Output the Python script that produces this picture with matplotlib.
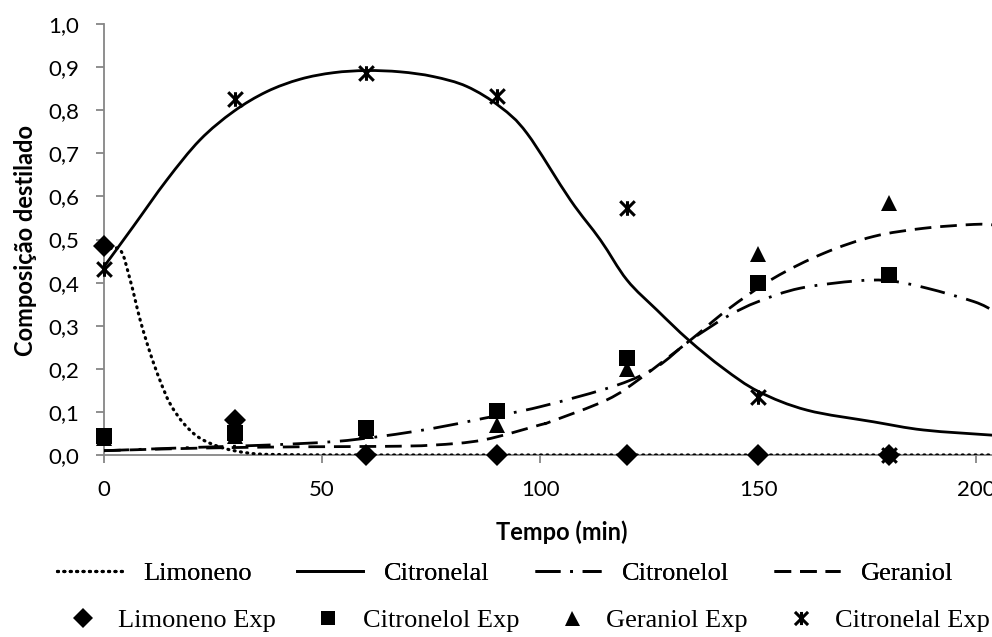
import matplotlib
matplotlib.use("Agg")
import matplotlib.pyplot as plt
from matplotlib.path import Path
from matplotlib.patches import PathPatch
from matplotlib.lines import Line2D
from matplotlib.ticker import FixedLocator

# ----------------------------------------------------------------------
# Experimental points (sampling times, min)
# ----------------------------------------------------------------------
t_exp = [0, 30, 60, 90, 120, 150, 180]
limoneno_exp = [0.485, 0.082, 0.0, 0.0, 0.0, 0.0, 0.0]
citronelol_exp = [0.044, 0.052, 0.062, 0.103, 0.226, 0.400, 0.417]
geraniol_exp = [0.040, 0.045, 0.056, 0.070, 0.200, 0.467, 0.585]
citronelal_exp = [0.431, 0.825, 0.887, 0.833, 0.572, 0.135, 0.0]

# ----------------------------------------------------------------------
# Simulated profiles
# ----------------------------------------------------------------------
t_lim = [0, 3.7, 6.0, 8.3, 10.6, 12.8, 15.1, 18.2, 22.0, 27.4, 33.5, 40, 60, 100, 150, 204]
y_lim = [0.475, 0.476, 0.406, 0.313, 0.236, 0.174, 0.120, 0.074, 0.039, 0.016, 0.004, 0.001, 0.0, 0.0, 0.0, 0.0]

t_cal = [0, 6.7, 14.4, 22.0, 29.7, 37.3, 45.0, 52.6, 60.2, 67.9, 75.5, 83.2, 90.8, 97.0,
         106.9, 113.8, 119.9, 126.8, 134.0, 142.0, 150.1, 161.2, 176.4, 187.9, 203.7]
y_cal = [0.437, 0.530, 0.638, 0.731, 0.797, 0.843, 0.872, 0.887, 0.892, 0.889, 0.878, 0.855, 0.808, 0.746,
         0.592, 0.499, 0.406, 0.336, 0.267, 0.201, 0.147, 0.104, 0.077, 0.058, 0.046]

t_col = [0, 22.0, 37.3, 52.6, 64.0, 75.5, 87.0, 100.0, 117.6, 126.8, 134.0, 142.8, 150.0,
         159.6, 172.6, 180.3, 188.7, 199.4, 203.7]
y_col = [0.010, 0.018, 0.023, 0.031, 0.044, 0.062, 0.085, 0.112, 0.162, 0.205, 0.263, 0.321, 0.356,
         0.387, 0.404, 0.404, 0.387, 0.356, 0.336]

t_ger = [0, 22.0, 45.0, 64.0, 75.5, 87.0, 100.0, 102.3, 115.3, 123.0, 134.0, 142.8, 153.5,
         165.0, 176.4, 187.9, 199.4, 203.7]
y_ger = [0.010, 0.016, 0.019, 0.020, 0.023, 0.035, 0.070, 0.077, 0.128, 0.178, 0.263, 0.336, 0.410,
         0.468, 0.507, 0.526, 0.535, 0.534]

x_ticks = [0, 50, 100, 150, 200]
y_ticks = [0.0, 0.1, 0.2, 0.3, 0.4, 0.5, 0.6, 0.7, 0.8, 0.9, 1.0]
y_labels = ["0,0", "0,1", "0,2", "0,3", "0,4", "0,5", "0,6", "0,7", "0,8", "0,9", "1,0"]

AXIS_GREY = "#868686"
TICK_FONT = "Lato"
LEGEND_FONT = "Liberation Serif"

# line styles shared by the curves and their legend entries
STYLES = {
    "Limoneno": dict(lw=2.3, linestyle=(0, (0.3, 1.7)), capstyle="round"),
    "Citronelal": dict(lw=2.0, linestyle="solid", capstyle="butt"),
    "Citronelol": dict(lw=2.0, linestyle=(0, (9, 3.5, 1, 3.5)), capstyle="butt"),
    "Geraniol": dict(lw=2.0, linestyle=(0, (6, 3.2)), capstyle="butt"),
}


def smooth_path(xs, ys):
    """Cubic Bezier path through the points (Catmull-Rom tangents)."""
    n = len(xs)
    verts = [(xs[0], ys[0])]
    codes = [Path.MOVETO]
    for i in range(n - 1):
        x0, y0 = (xs[i - 1], ys[i - 1]) if i > 0 else (xs[i], ys[i])
        x3, y3 = (xs[i + 2], ys[i + 2]) if i + 2 < n else (xs[i + 1], ys[i + 1])
        x1, y1 = xs[i], ys[i]
        x2, y2 = xs[i + 1], ys[i + 1]
        c1 = (x1 + (x2 - x0) / 6.0, y1 + (y2 - y0) / 6.0)
        c2 = (x2 - (x3 - x1) / 6.0, y2 - (y3 - y1) / 6.0)
        verts += [c1, c2, (x2, y2)]
        codes += [Path.CURVE4] * 3
    return Path(verts, codes)


# asterisk marker: vertical bar plus an X
star = Path([(0, -1), (0, 1), (-1, -1), (1, 1), (-1, 1), (1, -1)],
            [Path.MOVETO, Path.LINETO, Path.MOVETO, Path.LINETO, Path.MOVETO, Path.LINETO])

fig = plt.figure(figsize=(9.92, 6.37), dpi=100)
# plot area runs a little past the right edge of the canvas
ax = fig.add_axes([104 / 992, 182 / 637, 916 / 992, 431 / 637])

line_handles = []
for name, xs, ys in (("Limoneno", t_lim, y_lim), ("Citronelal", t_cal, y_cal),
                     ("Citronelol", t_col, y_col), ("Geraniol", t_ger, y_ger)):
    st = STYLES[name]
    ax.add_patch(PathPatch(smooth_path(xs, ys), facecolor="none", edgecolor="black", lw=st["lw"],
                           linestyle=st["linestyle"], capstyle=st["capstyle"], zorder=3))
    line_handles.append(Line2D([], [], color="black", lw=st["lw"], linestyle=st["linestyle"],
                               dash_capstyle=st["capstyle"], label=name))

mk = dict(color="black", linestyle="none", clip_on=False, markeredgewidth=0)
m_ger, = ax.plot(t_exp, geraniol_exp, marker="^", markersize=12, label="Geraniol Exp", zorder=4, **mk)
m_lim, = ax.plot(t_exp, limoneno_exp, marker="D", markersize=11, label="Limoneno Exp", zorder=5, **mk)
m_col, = ax.plot(t_exp, citronelol_exp, marker="s", markersize=11, label="Citronelol Exp", zorder=5, **mk)
m_cal, = ax.plot(t_exp, citronelal_exp, marker=star, markersize=10.5, color="black", linestyle="none",
                 markeredgewidth=2.2, clip_on=False, label="Citronelal Exp", zorder=6)

ax.set_xlim(0, 210)
ax.set_ylim(0, 1.0)
ax.xaxis.set_major_locator(FixedLocator(x_ticks))
ax.set_yticks(y_ticks)
ax.set_yticklabels(y_labels)

for side in ("top", "right"):
    ax.spines[side].set_visible(False)
for side in ("left", "bottom"):
    ax.spines[side].set_color(AXIS_GREY)
    ax.spines[side].set_linewidth(1.3)
ax.tick_params(axis="both", direction="out", length=6, width=1.3, color=AXIS_GREY,
               pad=12, labelsize=16)
for lab in ax.get_xticklabels() + ax.get_yticklabels():
    lab.set_fontfamily(TICK_FONT)

fig.text(562 / 992, 1 - 532 / 637, "Tempo (min)", ha="center", va="center",
         fontsize=17, fontweight="bold", family=TICK_FONT)
fig.text(26 / 992, 1 - 240 / 637, "Composição destilado", ha="center", va="center",
         rotation=90, fontsize=17, fontweight="bold", family=TICK_FONT)

leg_font = {"family": LEGEND_FONT, "size": 19}
leg1 = fig.legend(handles=line_handles, ncol=4, loc="center",
                  bbox_to_anchor=(505 / 992, 1 - 573 / 637), frameon=False, prop=leg_font,
                  handlelength=2.5, handletextpad=0.8, columnspacing=1.7, borderpad=0)
fig.legend(handles=[m_lim, m_col, m_ger, m_cal], ncol=4, loc="center",
           bbox_to_anchor=(530 / 992, 1 - 620 / 637), frameon=False, prop=leg_font,
           handlelength=1.0, handletextpad=0.8, columnspacing=1.5, borderpad=0,
           markerscale=0.9)
fig.add_artist(leg1)

fig.savefig("out.png", dpi=100)
